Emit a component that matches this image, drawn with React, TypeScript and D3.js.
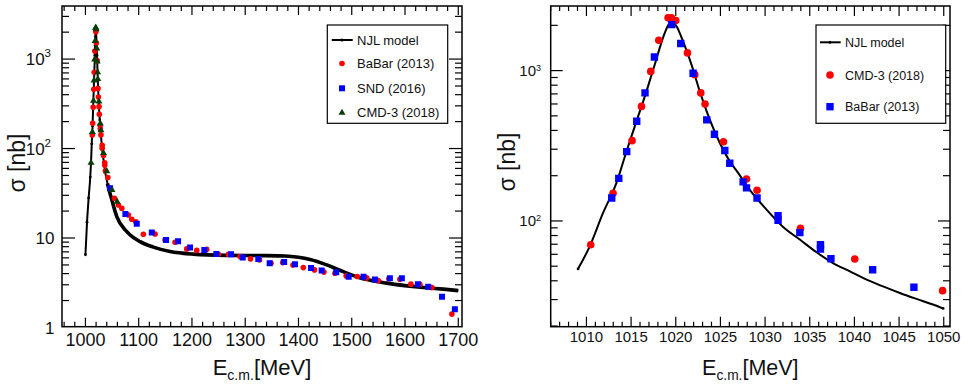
import { useEffect, useRef } from 'react'
import * as d3 from 'd3'

type Pt = [number, number] // [E (MeV), sigma (nb)]

const FONT = '"Liberation Sans", Arial, Helvetica, sans-serif'

// NJL model curve
const njlModel: Pt[] = [
  [1000, 6.5], [1003, 15], [1006, 28], [1009.06, 48], [1010.37, 67.8], [1011.86, 113], [1013.36, 179],
  [1014.48, 290], [1015.6, 460], [1016.72, 728], [1017.65, 1097], [1018.21, 1416], [1018.77, 1782],
  [1019.52, 2140], [1020.08, 1972], [1020.82, 1566], [1021.76, 1097], [1022.69, 728], [1023.81, 472],
  [1024.93, 330], [1026.05, 249], [1026.98, 209], [1028.29, 161], [1030.16, 119], [1032.02, 91.2],
  [1033.89, 75.2], [1035.76, 61.9], [1037.6, 52.5], [1039.49, 46.2], [1041.36, 40.7], [1043.2, 36.7],
  [1045.09, 33.2], [1046.96, 30.3], [1048.8, 27.8], [1049.93, 26.2], [1058.9, 17.3], [1077.7, 11.8],
  [1102.6, 9.1], [1127.6, 7.9], [1158.9, 7.05], [1202.6, 6.6], [1265, 6.4], [1328, 6.36], [1375, 6.3],
  [1400, 6.1], [1422, 5.75], [1453, 5.0], [1480, 4.3], [1515, 3.6], [1547, 3.26], [1578, 3.05],
  [1609, 2.9], [1640, 2.78], [1672, 2.68], [1700, 2.58],
]

const babar2013: Pt[] = [
  [1012.83, 142], [1013.62, 192], [1014.51, 289], [1015.63, 460], [1016.56, 711], [1017.61, 1233],
  [1019.55, 2023], [1020.56, 1513], [1021.94, 960], [1023.47, 470], [1024.33, 377], [1025.49, 294],
  [1026.05, 242], [1027.54, 182], [1027.92, 166], [1029.1, 142], [1031.45, 108.5], [1031.45, 101],
  [1033.89, 83.6], [1036.2, 69.5], [1036.2, 65.1], [1037.37, 56.1], [1042.04, 47.4], [1046.66, 36.2],
  [1054.4, 27.8], [1061.9, 23.4], [1068.3, 21.5], [1080.7, 18.1], [1087.0, 16.2], [1094.6, 15.2],
  [1108.8, 11.0], [1130.8, 11.1], [1149.5, 9.52], [1168.3, 8.98], [1190.2, 7.55], [1209.0, 7.27],
  [1227.7, 7.46], [1249.5, 6.59], [1268.3, 6.59], [1290.2, 6.2], [1309.9, 5.84], [1326.8, 5.69],
  [1348.4, 5.23], [1370.3, 5.31], [1389.6, 5.0], [1409.0, 4.67], [1430.0, 4.4], [1447.8, 4.16],
  [1468.4, 4.04], [1489.6, 3.77], [1510.3, 3.71], [1527.9, 3.58], [1549.7, 3.34], [1569.7, 3.51],
  [1590.4, 3.46], [1611.0, 3.05], [1627.9, 3.03], [1650.4, 2.79], [1688.0, 1.41],
]

const snd2016: Pt[] = [
  [1046.3, 36.0], [1075.0, 18.6], [1096.4, 14.4], [1124.6, 11.5], [1151.4, 9.52], [1173.9, 9.21],
  [1196.4, 7.85], [1223.2, 7.36], [1245.8, 6.64], [1273.3, 6.59], [1295.3, 6.04], [1324.5, 5.84],
  [1345.9, 5.23], [1373.1, 5.38], [1393.4, 5.1], [1423.4, 4.61], [1443.5, 4.33], [1470.9, 4.15],
  [1494.3, 3.7], [1522.1, 3.7], [1543.5, 3.44], [1571.6, 3.56], [1594.1, 3.56], [1624.2, 3.05],
  [1643.5, 2.86], [1669.5, 2.2], [1693.6, 1.6],
]

const cmd3_2018: Pt[] = [
  [1010.48, 69.5], [1012.98, 152.8], [1015.11, 342], [1016.16, 578], [1017.2, 988], [1018.1, 1592],
  [1019.14, 2244], [1019.52, 2244], [1020.0, 2152], [1021.31, 1312], [1022.13, 940], [1022.8, 711],
  [1023.28, 600], [1025.34, 336], [1027.92, 190], [1029.1, 160], [1033.96, 89.3], [1040.04, 55.9],
  [1049.87, 34.4], [1059.5, 25.5],
]

const leftXTicks = [1000, 1100, 1200, 1300, 1400, 1500, 1600, 1700]
const rightXTicks = [1010, 1015, 1020, 1025, 1030, 1035, 1040, 1045, 1050]
const leftYLabels = [
  { v: 1, base: '1', sup: '' }, { v: 10, base: '10', sup: '' },
  { v: 100, base: '10', sup: '2' }, { v: 1000, base: '10', sup: '3' },
]
const rightYLabels = [{ v: 100, base: '10', sup: '2' }, { v: 1000, base: '10', sup: '3' }]

type Shape = 'circle' | 'square' | 'triangle'
interface Series { data: Pt[]; shape: Shape; color: string; size: number; label: string }

const symbolOf = (shape: Shape, s: number) => {
  if (shape === 'circle') return d3.symbol().type(d3.symbolCircle).size(Math.PI * s * s)()
  if (shape === 'square') return d3.symbol().type(d3.symbolSquare).size(s * s)()
  return d3.symbol().type(d3.symbolTriangle).size(s * s * Math.sqrt(3) / 4)()
}

function drawPanel(svg: any, p: any) {
  const { x, y, id } = p
  const [x0, x1] = x.range()
  const [yb, yt] = y.range()
  const g = svg.append('g')
  g.append('clipPath').attr('id', id).append('rect')
    .attr('x', x0).attr('y', yt).attr('width', x1 - x0).attr('height', yb - yt)
  const plot = g.append('g').attr('clip-path', `url(#${id})`)

  const model: Pt[] = p.model
  const line = d3.line<Pt>().x(d => x(d[0])).y(d => y(d[1])).curve(d3.curveMonotoneX)
  plot.append('path').datum(model).attr('d', line).attr('fill', 'none')
    .attr('stroke', '#000').attr('stroke-width', p.lineW)
  if (p.thickFrom) {
    plot.append('path').datum(model.filter(d => d[0] >= p.thickFrom)).attr('d', line).attr('fill', 'none')
      .attr('stroke', '#000').attr('stroke-width', 3.6)
  }
  plot.selectAll('.dot').data(p.dots).enter().append('circle')
    .attr('cx', (d: Pt) => x(d[0])).attr('cy', (d: Pt) => y(d[1])).attr('r', 1.4).attr('fill', '#000')

  p.series.forEach((s: Series) => {
    plot.selectAll(null).data(s.data).enter().append('path')
      .attr('d', symbolOf(s.shape, s.size))
      .attr('transform', (d: Pt) => `translate(${x(d[0])},${y(d[1])})`)
      .attr('fill', s.color)
  })

  // frame
  g.append('rect').attr('x', x0).attr('y', yt).attr('width', x1 - x0).attr('height', yb - yt)
    .attr('fill', 'none').attr('stroke', '#000').attr('stroke-width', 1.5)

  const tk = g.append('g').attr('stroke', '#000').attr('stroke-width', 1.2)
  const [dx0, dx1] = x.domain()
  const minorX = d3.range(Math.ceil(dx0 / p.minorStep) * p.minorStep, dx1 + 1e-6, p.minorStep)
  minorX.forEach((v: number) => {
    const isMajor = p.xTicks.includes(Math.round(v * 1000) / 1000)
    const len = isMajor ? p.xMajor : p.xMinor
    const px = x(v)
    tk.append('line').attr('x1', px).attr('x2', px).attr('y1', yb).attr('y2', yb - len)
    tk.append('line').attr('x1', px).attr('x2', px).attr('y1', yt).attr('y2', yt + len)
  })
  const [dy0, dy1] = y.domain()
  for (let n = Math.floor(Math.log10(dy0)); n <= Math.ceil(Math.log10(dy1)); n++) {
    for (let k = 1; k <= 9; k++) {
      const v = k * Math.pow(10, n)
      if (v < dy0 * 0.999 || v > dy1) continue
      const len = k === 1 ? p.yMajor : p.yMinor
      const py = y(v)
      tk.append('line').attr('x1', x0).attr('x2', x0 + len).attr('y1', py).attr('y2', py)
      tk.append('line').attr('x1', x1).attr('x2', x1 - len).attr('y1', py).attr('y2', py)
    }
  }

  // x tick labels
  g.selectAll(null).data(p.xTicks).enter().append('text')
    .attr('x', (d: number) => x(d)).attr('y', p.xLabelY).attr('text-anchor', 'middle')
    .attr('font-family', FONT).attr('font-size', p.xLabelSize).attr('fill', '#111')
    .text((d: number) => d)

  // y tick labels
  p.yLabels.forEach((l: any) => {
    const t = g.append('text').attr('text-anchor', 'end').attr('font-family', FONT).attr('fill', '#111')
      .attr('font-size', p.yLabelSize)
      .attr('x', l.sup ? p.yLabelXSup : p.yLabelX)
      .attr('y', Math.min(y(l.v) + p.yLabelSize * 0.36, p.yLabelMaxY))
    t.append('tspan').text(l.base)
    if (l.sup) t.append('tspan').attr('font-size', p.supSize).attr('dy', -p.supDy).text(l.sup)
  })

  // axis titles
  const xt = g.append('text').attr('x', (x0 + x1) / 2).attr('y', p.xTitleY).attr('text-anchor', 'middle')
    .attr('font-family', FONT).attr('font-size', p.titleSize).attr('fill', '#111')
  xt.append('tspan').text('E')
  xt.append('tspan').attr('font-size', p.titleSize * 0.64).attr('dy', 5).text('c.m.')
  xt.append('tspan').attr('dy', -5).text('[MeV]')

  g.append('text').attr('transform', `translate(${p.yTitleX},${p.yTitleCY}) rotate(-90)`)
    .attr('text-anchor', 'middle').attr('font-family', FONT).attr('font-size', p.yTitleSize)
    .attr('fill', '#111').text('σ [nb]')

  // legend
  const L = p.legend
  g.append('rect').attr('x', L.x).attr('y', L.y).attr('width', L.w).attr('height', L.h)
    .attr('fill', '#fff').attr('stroke', '#000').attr('stroke-width', 1.2)
  g.append('line').attr('x1', L.lx1).attr('x2', L.lx2).attr('y1', L.rows[0]).attr('y2', L.rows[0])
    .attr('stroke', '#000').attr('stroke-width', 2)
  g.append('circle').attr('cx', L.mx).attr('cy', L.rows[0]).attr('r', 1.5).attr('fill', '#000')
  const labels = ['NJL model', ...p.series.map((s: Series) => s.label)]
  p.series.forEach((s: Series, i: number) => {
    g.append('path').attr('d', symbolOf(s.shape, s.size))
      .attr('transform', `translate(${L.mx},${L.rows[i + 1]})`).attr('fill', s.color)
  })
  labels.forEach((t: string, i: number) => {
    g.append('text').attr('x', L.tx).attr('y', L.rows[i] + L.fs * 0.36).attr('font-family', FONT)
      .attr('font-size', L.fs).attr('fill', '#111').text(t)
  })
}

export default function App() {
  const ref = useRef<SVGSVGElement | null>(null)

  useEffect(() => {
    if (!ref.current) return
    const svg = d3.select(ref.current)
    svg.selectAll('*').remove()
    svg.append('rect').attr('width', 964).attr('height', 385).attr('fill', '#fff')

    const xL = d3.scaleLinear().domain([956, 1707]).range([62, 462])
    const yL = d3.scaleLog().domain([1.02, 3920]).range([326.7, 6])
    drawPanel(svg, {
      id: 'clipL', x: xL, y: yL, model: njlModel, lineW: 2, thickFrom: 1040,
      dots: njlModel.filter(d => d[0] < 1030),
      series: [
        { data: babar2013, shape: 'circle', color: '#ff0000', size: 2.8, label: 'BaBar (2013)' },
        { data: snd2016, shape: 'square', color: '#0000ff', size: 6, label: 'SND (2016)' },
        { data: cmd3_2018, shape: 'triangle', color: '#0a3d0a', size: 7, label: 'CMD-3 (2018)' },
      ],
      xTicks: leftXTicks, minorStep: 20, xMajor: 9, xMinor: 5, yMajor: 13, yMinor: 7,
      xLabelY: 346, xLabelSize: 18,
      yLabels: leftYLabels, yLabelSize: 17, yLabelX: 54.5, yLabelXSup: 51, supSize: 11.5, supDy: 7.7,
      yLabelMaxY: 335,
      xTitleY: 374.5, titleSize: 22, yTitleX: 25, yTitleCY: 163, yTitleSize: 23,
      legend: { x: 327.3, y: 25, w: 120.4, h: 98.3, rows: [40, 63.5, 88.3, 112.7], lx1: 331.7, lx2: 352.7, mx: 342, tx: 357, fs: 13 },
    })

    const xR = d3.scaleLinear().domain([1006, 1050.7]).range([550.7, 950])
    const yR = d3.scaleLog().domain([19.8, 2690]).range([326.7, 6])
    const zoomModel = njlModel.filter(d => d[0] >= 1009 && d[0] <= 1050)
    drawPanel(svg, {
      id: 'clipR', x: xR, y: yR, model: zoomModel, lineW: 2, thickFrom: 0,
      dots: [zoomModel[0], zoomModel[zoomModel.length - 1]],
      series: [
        { data: cmd3_2018, shape: 'circle', color: '#ff0000', size: 3.8, label: 'CMD-3 (2018)' },
        { data: babar2013, shape: 'square', color: '#0000ff', size: 7.4, label: 'BaBar (2013)' },
      ],
      xTicks: rightXTicks, minorStep: 1, xMajor: 10, xMinor: 5, yMajor: 12, yMinor: 7,
      xLabelY: 342, xLabelSize: 15,
      yLabels: rightYLabels, yLabelSize: 15, yLabelX: 541, yLabelXSup: 541, supSize: 9, supDy: 5,
      yLabelMaxY: 400,
      xTitleY: 375, titleSize: 21.5, yTitleX: 515, yTitleCY: 162, yTitleSize: 23,
      legend: { x: 816, y: 25, w: 129.7, h: 98.3, rows: [42.3, 75, 106.7], lx1: 820, lx2: 840.7, mx: 830, tx: 845, fs: 12.5 },
    })
  }, [])

  return (
    <svg ref={ref} width={964} height={385}
      style={{ position: 'absolute', left: 0, top: 0, display: 'block' }} />
  )
}
